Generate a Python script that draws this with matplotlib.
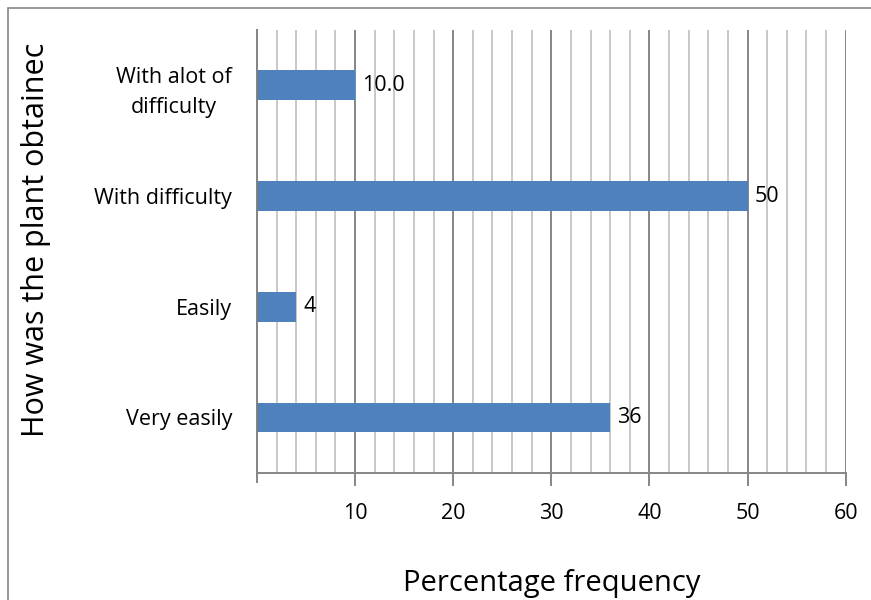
import numpy as np
import matplotlib.pyplot as plt
from matplotlib.patches import Rectangle

plt.rcParams['font.family'] = ['Open Sans', 'DejaVu Sans']

# categories from bottom to top
categories = ["Very easily", "Easily", "With difficulty", "With alot of\ndifficulty"]
values = [36, 4, 50, 10.0]
value_labels = ["36", "4", "50", "10.0"]

fig = plt.figure(figsize=(8.71, 6), dpi=100)
ax = fig.add_axes([0.295, 0.212, 0.676, 0.738])

# outer frame
fig.patches.append(Rectangle((8 / 871, -0.1), 1.2, 1 - 8 / 600 + 0.1,
                             transform=fig.transFigure, fill=False,
                             edgecolor='#868686', linewidth=1.2))

y = np.arange(len(categories))
ax.barh(y, values, height=0.27, color='#4f81bd', zorder=3)

for yi, v, lab in zip(y, values, value_labels):
    ax.text(v + 0.7, yi, lab, va='center', ha='left', fontsize=15.5, color='black')

ax.set_xlim(0, 60)
ax.set_ylim(-0.5, len(categories) - 0.5)
ax.set_xticks(np.arange(10, 61, 10))
ax.set_xticks(np.arange(0, 61, 2), minor=True)
ax.xaxis.grid(True, which='minor', color='#bfbfbf', linewidth=1.2, zorder=0)
ax.xaxis.grid(True, which='major', color='#868686', linewidth=1.4, zorder=1)
ax.tick_params(axis='x', which='major', direction='out', length=9, width=1.4,
               color='#868686', labelsize=15.5, pad=13)
ax.tick_params(axis='x', which='minor', length=0)

ax.set_yticks(y)
ax.set_yticklabels(categories, fontsize=15.5, multialignment='center',
                   linespacing=1.55)
ax.tick_params(axis='y', length=0, pad=18)

for side in ['top', 'right']:
    ax.spines[side].set_visible(False)
ax.spines['bottom'].set_color('#868686')
ax.spines['bottom'].set_linewidth(1.4)
ax.spines['left'].set_color('#868686')
ax.spines['left'].set_linewidth(1.4)
ax.axvline(0, ymin=-0.02, ymax=1, color='#868686', linewidth=1.4, clip_on=False)

ax.set_xlabel("Percentage frequency", fontsize=21, labelpad=32)
fig.text(0.041, 0.6, "How was the plant obtainec", rotation=90, fontsize=22,
         va='center', ha='center')

fig.savefig("out.png", dpi=100)
